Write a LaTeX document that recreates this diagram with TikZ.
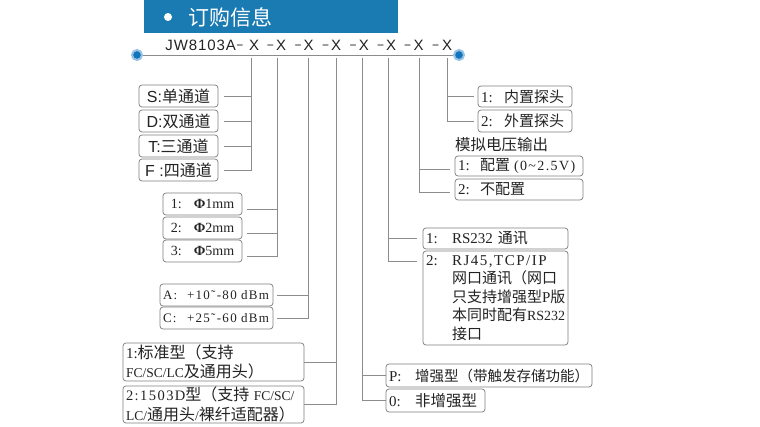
\documentclass[tikz,border=0pt]{standalone}
\usepackage{fontspec}
\setmainfont{Liberation Serif}
\newfontfamily\cjk{Noto Sans CJK SC}
\newfontfamily\hei{Liberation Sans}
\newfontfamily\heiw[LetterSpace=6]{Liberation Sans}
\newfontfamily\serw[LetterSpace=10]{Liberation Serif}
\newcommand\zhsz{15pt}
\newcommand\zh[1]{{\cjk\fontsize{\zhsz}{\baselineskip}\selectfont #1}}
\newcommand\pfx[2]{\makebox[#1][l]{#2}}
\newcommand\mdash{\raisebox{1.2pt}{\fontsize{12}{14}\selectfont −}}
\definecolor{hdrblue}{RGB}{26,122,178}
\definecolor{dotblue}{RGB}{18,116,186}
\definecolor{ringblue}{RGB}{150,195,228}
\definecolor{linegray}{RGB}{140,140,140}
\definecolor{boxgray}{RGB}{130,130,130}
\definecolor{txt}{RGB}{35,35,35}
\begin{document}
\begin{tikzpicture}[x=1pt,y=-1pt,
  ln/.style={draw=linegray, line width=0.8pt},
  bx/.style={draw=boxgray, line width=0.75pt, rounded corners=3pt, inner xsep=3pt, inner ysep=0pt, text=txt, align=left},
  cbx/.style={bx, align=center},
  ttl/.style={inner sep=0pt, anchor=base, text=txt, font=\hei\fontsize{15}{18}\selectfont},
  endpt/.style={circle, fill=dotblue, draw=ringblue, line width=2pt, minimum size=10pt, inner sep=0pt}
]
\useasboundingbox (0,0) rectangle (760,427);
\fill[white] (0,0) rectangle (760,427);

% header
\node[fill=hdrblue, minimum width=254pt, minimum height=33pt, anchor=north west, inner sep=0pt] (hdr) at (144,0) {};
\node[circle, fill=white, minimum size=8pt, inner sep=0pt] (bul) at (168,17) {};
\node[anchor=west, inner sep=0pt, text=white, font=\cjk\fontsize{21}{24}\selectfont] (htitle) at (188,17) {订购信息};

% code line
\node[ttl, anchor=base east, font=\heiw\fontsize{15}{18}\selectfont] (jw) at (236,50.3) {JW8103A};
\node[ttl] (m1) at (240,50.3) {\mdash};
\node[ttl] (x1) at (254,50.3) {X};
\node[ttl] (m2) at (270.5,50.3) {\mdash};
\node[ttl] (x2) at (281,50.3) {X};
\node[ttl] (m3) at (298,50.3) {\mdash};
\node[ttl] (x3) at (308.7,50.3) {X};
\node[ttl] (m4) at (325.5,50.3) {\mdash};
\node[ttl] (x4) at (336,50.3) {X};
\node[ttl] (m5) at (353,50.3) {\mdash};
\node[ttl] (x5) at (363.8,50.3) {X};
\node[ttl] (m6) at (380.5,50.3) {\mdash};
\node[ttl] (x6) at (391,50.3) {X};
\node[ttl] (m7) at (407.5,50.3) {\mdash};
\node[ttl] (x7) at (418.7,50.3) {X};
\node[ttl] (m8) at (435.5,50.3) {\mdash};
\node[ttl] (x8) at (447,50.3) {X};

\node[endpt] (lc) at (137,55) {};
\node[endpt] (rc) at (459,55) {};
\draw[ln] (lc) -- (rc);

\coordinate (t1) at (251,58);
\coordinate (t2) at (277.5,58);
\coordinate (t3) at (308,58);
\coordinate (t4) at (336.5,58);
\coordinate (t5) at (362,58);
\coordinate (t6) at (388.7,58);
\coordinate (t7) at (419.5,58);
\coordinate (t8) at (447.5,58);

% channel boxes
\node[cbx, font=\hei\fontsize{16}{18}\selectfont\renewcommand\zhsz{16pt}, minimum width=79pt, minimum height=22pt] (S) at (178.5,96) {S:\zh{单通道}};
\node[cbx, font=\hei\fontsize{16}{18}\selectfont\renewcommand\zhsz{16pt}, minimum width=79pt, minimum height=22pt] (D) at (178.5,121) {D:\zh{双通道}};
\node[cbx, font=\hei\fontsize{16}{18}\selectfont\renewcommand\zhsz{16pt}, minimum width=79pt, minimum height=22pt] (T) at (178.5,146) {T:\zh{三通道}};
\node[cbx, font=\hei\fontsize{16}{18}\selectfont\renewcommand\zhsz{16pt}, minimum width=79pt, minimum height=22pt] (F) at (178.5,170) {F :\zh{四通道}};

% diameter boxes
\node[cbx, font=\fontsize{14}{16}\selectfont, minimum width=79pt, minimum height=22pt] (d1) at (202.5,204) {1:\hspace{12pt}\textbf{Φ}1mm};
\node[cbx, font=\fontsize{14}{16}\selectfont, minimum width=79pt, minimum height=22pt] (d2) at (202.5,228) {2:\hspace{12pt}\textbf{Φ}2mm};
\node[cbx, font=\fontsize{14}{16}\selectfont, minimum width=79pt, minimum height=22pt] (d3) at (202.5,251) {3:\hspace{12pt}\textbf{Φ}5mm};

% power range boxes
\node[bx, text width=107pt, minimum height=22pt, font=\serw\fontsize{13}{15}\selectfont] (pa) at (216.5,295) {\pfx{24pt}{A:}+10˜-80 dBm};
\node[bx, text width=107pt, minimum height=22pt, font=\serw\fontsize{13}{15}\selectfont] (pc) at (216.5,318) {\pfx{24pt}{C:}+25˜-60 dBm};

% type boxes
\node[bx, text width=175pt, minimum height=38pt, font=\fontsize{13.5}{19}\selectfont\renewcommand\zhsz{16pt}] (ty1) at (213.5,362) {{\fontsize{15}{19}\selectfont 1:}\zh{标准型（支持}\\FC/SC/LC\zh{及通用头）}};
\node[bx, text width=175pt, minimum height=37pt, font=\fontsize{13.5}{19.5}\selectfont\renewcommand\zhsz{16pt}] (ty2) at (213.5,404.5) {{\serw\fontsize{14.5}{19.5}\selectfont 2:1503D}\zh{型（支持} FC/SC/\\LC/\zh{通用头}/\zh{裸纤适配器）}};

% P / 0 boxes
\node[bx, text width=200pt, minimum height=23pt, font=\fontsize{15}{17}\selectfont\renewcommand\zhsz{14.5pt}] (pp) at (489,375.5) {\pfx{26pt}{P:}\zh{增强型（带触发存储功能）}};
\node[bx, text width=93pt, minimum height=23pt, font=\fontsize{15}{17}\selectfont\renewcommand\zhsz{15.5pt}] (p0) at (435.5,400.5) {\pfx{26pt}{0:}\zh{非增强型}};

% comms boxes
\node[bx, text width=139pt, minimum height=21pt, font=\fontsize{15}{17}\selectfont] (c1) at (495.5,238.5) {\pfx{26pt}{1:}RS232 \zh{通讯}};
\node[bx, text width=139pt, minimum height=94pt, font=\fontsize{15}{18.5}\selectfont] (c2) at (495.5,298) {\pfx{26pt}{2:}{\serw RJ45,TCP/IP}\\\hspace*{26pt}\zh{网口通讯（网口}\\\hspace*{26pt}\zh{只支持增强型}P\zh{版}\\\hspace*{26pt}\zh{本同时配有}{\fontsize{14}{18.5}\selectfont RS232}\\\hspace*{26pt}\zh{接口}};

% analog output
\node[anchor=west, inner sep=0pt, text=txt, font=\cjk\fontsize{15.5}{18}\selectfont] (alab) at (455,145) {模拟电压输出};
\node[bx, text width=122pt, minimum height=20pt, font=\fontsize{15}{17}\selectfont] (a1) at (519,166) {\pfx{22pt}{1:}\zh{配置}\hspace{4pt}{\serw\fontsize{14}{17}\selectfont (0\textasciitilde 2.5V)}};
\node[bx, text width=122pt, minimum height=21pt, font=\fontsize{15}{17}\selectfont] (a2) at (519,189.5) {\pfx{22pt}{2:}\zh{不配置}};

% probe boxes
\node[bx, text width=88pt, minimum height=21pt, font=\fontsize{15}{17}\selectfont] (q1) at (525,96.5) {\pfx{23pt}{1:}\zh{内置探头}};
\node[bx, text width=88pt, minimum height=22pt, font=\fontsize{15}{17}\selectfont] (q2) at (525,121) {\pfx{23pt}{2:}\zh{外置探头}};

% junction coordinates
\coordinate (d1j) at ([yshift=-5.5pt]d1.east);
\coordinate (d2j) at ([yshift=-5.5pt]d2.east);
\coordinate (d3j) at ([yshift=-5.5pt]d3.east);
\coordinate (c2j) at ([yshift=-11pt]c2.north west);
\coordinate (a1j) at ([yshift=-3pt]a1.west);
\coordinate (a2j) at ([yshift=-3pt]a2.west);

% connectors
\draw[ln] (t1) |- ([xshift=6pt]F.east);
\foreach \n in {S,D,T} \draw[ln] ([xshift=6pt]\n.east) -- (\n.east -| t1);

\draw[ln] (t2) |- ([xshift=5pt]d3j);
\foreach \n in {d1j,d2j} \draw[ln] ([xshift=5pt]\n) -- (\n -| t2);

\draw[ln] (t3) |- ([xshift=4pt]pc.east);
\draw[ln] ([xshift=4pt]pa.east) -- (pa.east -| t3);

\draw[ln] (t4) |- (ty2.east);
\draw[ln] (ty1.east) -- (ty1.east -| t4);

\draw[ln] (t5) |- (p0.west);
\draw[ln] (pp.west) -- (pp.west -| t5);

\draw[ln] (t6) |- ([xshift=-6pt]c2j);
\draw[ln] ([xshift=-6pt]c1.west) -- (c1.west -| t6);

\draw[ln] (t7) |- ([xshift=-5pt]a2j);
\draw[ln] ([xshift=-5pt]a1j) -- (a1j -| t7);

\draw[ln] (t8) |- ([xshift=-4pt]q2.west);
\draw[ln] ([xshift=-4pt]q1.west) -- (q1.west -| t8);
\end{tikzpicture}
\end{document}
